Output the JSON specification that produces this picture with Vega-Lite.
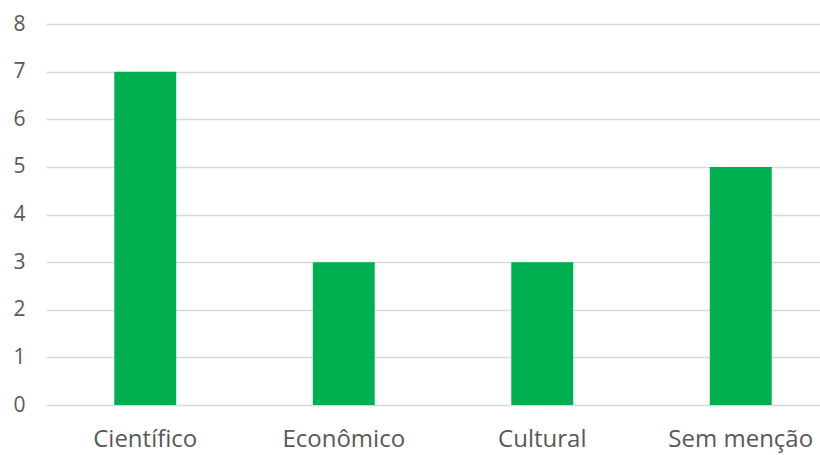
{
  "$schema": "https://vega.github.io/schema/vega-lite/v6.json",
  "autosize": "none",
  "padding": {"left": 46, "top": 24, "right": 0, "bottom": 50},
  "width": 794,
  "height": 381,
  "background": "white",
  "config": {"view": {"stroke": null}},
  "data": {"values": [
    {"categoria": "Científico", "valor": 7},
    {"categoria": "Econômico", "valor": 3},
    {"categoria": "Cultural", "valor": 3},
    {"categoria": "Sem menção", "valor": 5}
  ]},
  "mark": {"type": "bar", "color": "#00B050"},
  "encoding": {
    "x": {
      "field": "categoria", "type": "nominal", "sort": null,
      "scale": {"paddingInner": 0.688, "paddingOuter": 0.344},
      "axis": {"title": null, "labelAngle": 0, "domain": false, "ticks": false,
        "labelFont": "Open Sans", "labelFontSize": 24, "labelColor": "#595959", "labelPadding": 22,
        "labelOverlap": false}
    },
    "y": {
      "field": "valor", "type": "quantitative",
      "scale": {"domain": [0, 8]},
      "axis": {"title": null, "values": [0,1,2,3,4,5,6,7,8], "domain": false, "ticks": false,
        "labelOverlap": false,
        "gridColor": "#d9d9d9", "gridWidth": 1.3,
        "labelFont": "Open Sans", "labelFontSize": 21, "labelColor": "#595959", "labelPadding": 21}
    }
  }
}
